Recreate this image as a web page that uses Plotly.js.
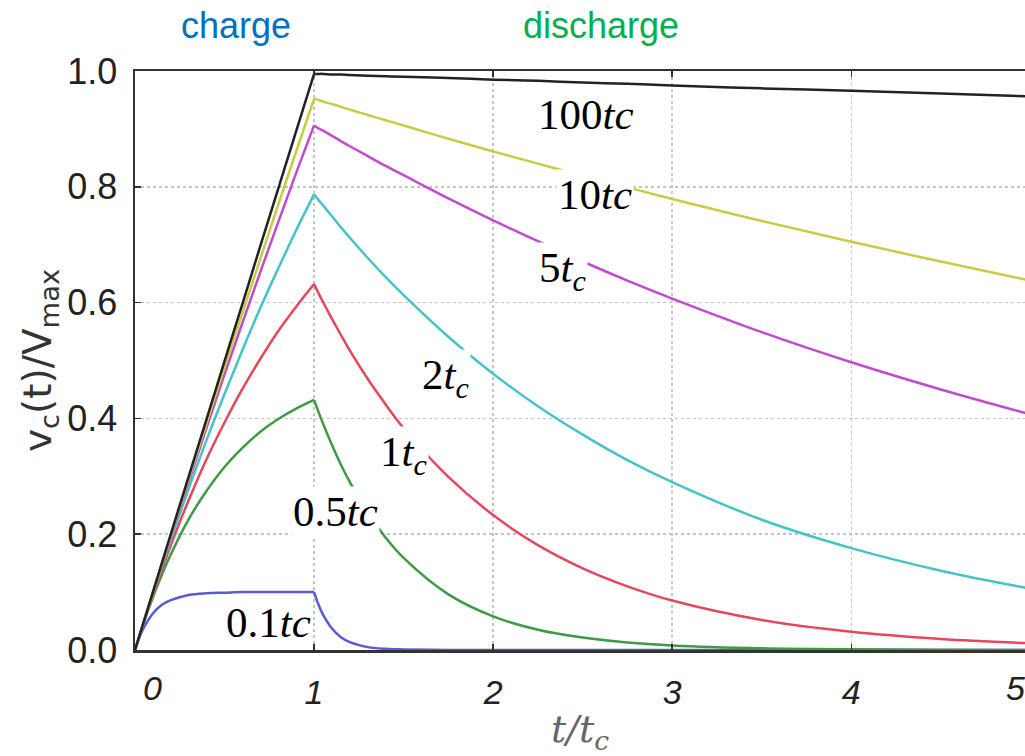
<!DOCTYPE html>
<html>
<head>
<meta charset="utf-8">
<script src="https://cdn.plot.ly/plotly-3.0.1.min.js"></script>
<style>html,body{margin:0;padding:0;background:#fff;}#chart{width:1025px;height:756px;}</style>
</head>
<body>
<div id="chart"></div>
<script>
// time axis, t / t_c : charge phase and discharge phase
const tCharge    = [0, 0.025, 0.05, 0.1, 0.15, 0.2, 0.3, 0.4, 0.5, 0.6, 0.7, 0.8, 0.9, 1.0];
const tDischarge = [1.0, 1.025, 1.05, 1.1, 1.15, 1.2, 1.3, 1.4, 1.5, 1.75, 2, 2.25, 2.5, 2.75, 3, 3.5, 4, 4.5, 5];

// v_c(t)/V_max for each time constant
const tau01Charge     = [0, 0.022, 0.039, 0.063, 0.078, 0.086, 0.095, 0.098, 0.099, 0.1, 0.1, 0.1, 0.1, 0.1];
const tau01Discharge  = [0.1, 0.078, 0.061, 0.037, 0.022, 0.0135, 0.005, 0.002, 0.001, 0.0001, 0, 0, 0, 0, 0, 0, 0, 0, 0];
const tau05Charge     = [0, 0.024, 0.048, 0.091, 0.130, 0.165, 0.226, 0.275, 0.316, 0.349, 0.377, 0.399, 0.417, 0.432];
const tau05Discharge  = [0.432, 0.411, 0.391, 0.354, 0.320, 0.290, 0.237, 0.194, 0.159, 0.096, 0.058, 0.035, 0.0215, 0.013, 0.0079, 0.0029, 0.0011, 0.0004, 0.0001];
const tau1Charge      = [0, 0.025, 0.049, 0.095, 0.139, 0.181, 0.259, 0.330, 0.393, 0.451, 0.503, 0.551, 0.593, 0.632];
const tau1Discharge   = [0.632, 0.616, 0.601, 0.572, 0.544, 0.517, 0.468, 0.424, 0.383, 0.299, 0.233, 0.181, 0.141, 0.110, 0.0855, 0.0519, 0.0315, 0.0191, 0.0116];
const tau2Charge      = [0, 0.025, 0.049, 0.098, 0.145, 0.190, 0.279, 0.363, 0.442, 0.518, 0.591, 0.659, 0.725, 0.787];
const tau2Discharge   = [0.787, 0.777, 0.768, 0.749, 0.730, 0.712, 0.677, 0.644, 0.613, 0.541, 0.477, 0.421, 0.372, 0.328, 0.290, 0.225, 0.176, 0.137, 0.106];
const tau5Charge      = [0, 0.025, 0.050, 0.099, 0.148, 0.196, 0.291, 0.384, 0.476, 0.565, 0.653, 0.739, 0.824, 0.906];
const tau5Discharge   = [0.906, 0.901, 0.897, 0.888, 0.879, 0.870, 0.853, 0.836, 0.820, 0.780, 0.742, 0.706, 0.671, 0.638, 0.607, 0.549, 0.497, 0.450, 0.407];
const tau10Charge     = [0, 0.025, 0.050, 0.0995, 0.149, 0.198, 0.296, 0.392, 0.488, 0.582, 0.676, 0.769, 0.861, 0.952];
const tau10Discharge  = [0.952, 0.950, 0.947, 0.943, 0.938, 0.933, 0.924, 0.915, 0.906, 0.883, 0.861, 0.840, 0.819, 0.799, 0.779, 0.741, 0.705, 0.671, 0.638];
const tau100Charge    = [0, 0.025, 0.05, 0.1, 0.15, 0.2, 0.3, 0.399, 0.499, 0.598, 0.698, 0.797, 0.896, 0.995];
const tau100Discharge = [0.995, 0.995, 0.995, 0.994, 0.994, 0.993, 0.992, 0.991, 0.990, 0.988, 0.985, 0.983, 0.980, 0.978, 0.975, 0.970, 0.966, 0.961, 0.956];

const seriesNames = ['0.1tc', '0.5tc', '1tc', '2tc', '5tc', '10tc', '100tc'];
const chargeData    = [tau01Charge, tau05Charge, tau1Charge, tau2Charge, tau5Charge, tau10Charge, tau100Charge];
const dischargeData = [tau01Discharge, tau05Discharge, tau1Discharge, tau2Discharge, tau5Discharge, tau10Discharge, tau100Discharge];
const seriesColors  = ['#5a5ad8', '#3f9a45', '#e4485c', '#45c4c8', '#c24ad0', '#c8cc40', '#222222'];

// tick labels
const xTickVals = [0, 1, 2, 3, 4];
const xTickText = ['', '1', '2', '3', '4'];
const yTickVals = [0, 0.2, 0.4, 0.6, 0.8, 1.0];
const yTickText = ['0.0', '0.2', '0.4', '0.6', '0.8', '1.0'];

// curve labels: text and position (data units)
const labelText = ['100<i>tc</i>', '10<i>tc</i>', '5<i>t<sub>c</sub></i>', '2<i>t<sub>c</sub></i>',
                   '1<i>t<sub>c</sub></i>', '0.5<i>tc</i>', '0.1<i>tc</i>'];
const labelX = [2.52, 2.57, 2.385, 1.736, 1.497, 1.117, 0.748];
const labelY = [0.925, 0.787, 0.655, 0.47, 0.337, 0.24, 0.047];

const traces = [];
chargeData.forEach((ys, i) => {
  traces.push({x: tCharge, y: ys, type: 'scatter', mode: 'lines', name: seriesNames[i] + ' charge',
    line: {color: seriesColors[i], width: 2.5, shape: 'spline', smoothing: 1}, hoverinfo: 'skip'});
  traces.push({x: tDischarge, y: dischargeData[i], type: 'scatter', mode: 'lines', name: seriesNames[i] + ' discharge',
    line: {color: seriesColors[i], width: 2.5, shape: 'spline', smoothing: 1}, hoverinfo: 'skip'});
});

const annotations = labelText.map((txt, i) => ({
  x: labelX[i], y: labelY[i], xref: 'x', yref: 'y', text: txt, showarrow: false,
  font: {family: 'Liberation Serif, serif', size: 43, color: '#000'},
  bgcolor: '#ffffff', borderpad: 1, xanchor: 'center', yanchor: 'middle'
}));

annotations.push(
  {x: 0.095, y: -0.066, xref: 'x', yref: 'paper', text: '0', showarrow: false,
   font: {family: 'Liberation Sans, Arial, sans-serif', size: 34, color: '#222', style: 'italic'},
   xanchor: 'center', yanchor: 'middle'},
  {x: 4.915, y: -0.066, xref: 'x', yref: 'paper', text: '5', showarrow: false,
   font: {family: 'Liberation Sans, Arial, sans-serif', size: 34, color: '#222', style: 'italic'},
   xanchor: 'center', yanchor: 'middle'},
  {x: 236, y: 25, xref: 'paper', yref: 'paper', text: 'charge', showarrow: false},
  {x: 601, y: 25, xref: 'paper', yref: 'paper', text: 'discharge', showarrow: false}
);

// convert the two header positions from pixels to paper coordinates
const W = 1025, H = 756, ML = 135, MR = 0, MT = 71, MB = 106;
const pw = W - ML - MR, ph = H - MT - MB;
const hdrColors = ['#0070c0', '#00b050'];
[annotations.length - 2, annotations.length - 1].forEach((k, j) => {
  const a = annotations[k];
  a.x = (a.x - ML) / pw;
  a.y = (H - MB - a.y) / ph;
  a.xanchor = 'center'; a.yanchor = 'middle';
  a.font = {family: 'Liberation Sans, Arial, sans-serif', size: 36, color: hdrColors[j]};
});

const layout = {
  width: W, height: H,
  margin: {l: ML, r: MR, t: MT, b: MB, pad: 0},
  paper_bgcolor: '#fff', plot_bgcolor: '#fff',
  showlegend: false,
  xaxis: {
    range: [0, 4.97], tickvals: xTickVals, ticktext: xTickText,
    showgrid: true, gridcolor: '#c4c4c4', griddash: 'dot', gridwidth: 1.5,
    zeroline: false, showline: true, linecolor: '#333', linewidth: 2.5, mirror: 'ticks',
    ticks: 'inside', ticklen: 6, tickcolor: '#333', tickwidth: 1.5,
    tickfont: {family: 'Liberation Sans, Arial, sans-serif', size: 34, color: '#222', style: 'italic'},
    ticklabelstandoff: 11,
    title: {text: 't/t<sub>c</sub>', standoff: 6,
            font: {family: 'DejaVu Serif, serif', size: 38, color: '#666', style: 'italic'}}
  },
  yaxis: {
    range: [0, 1], tickvals: yTickVals, ticktext: yTickText,
    showgrid: true, gridcolor: '#c4c4c4', griddash: 'dot', gridwidth: 1.5,
    zeroline: false, showline: true, linecolor: '#333', linewidth: 2.5, mirror: false,
    ticks: 'inside', ticklen: 6, tickcolor: '#333', tickwidth: 1.5,
    tickfont: {family: 'Liberation Sans, Arial, sans-serif', size: 36, color: '#222'},
    ticklabelstandoff: 8,
    title: {text: 'v<sub>c</sub>(t)/V<sub>max</sub>', standoff: 4,
            font: {family: 'DejaVu Sans, sans-serif', size: 39, color: '#333'}}
  },
  annotations: annotations
};

Plotly.newPlot('chart', traces, layout, {displayModeBar: false, staticPlot: true});
</script>
</body>
</html>
